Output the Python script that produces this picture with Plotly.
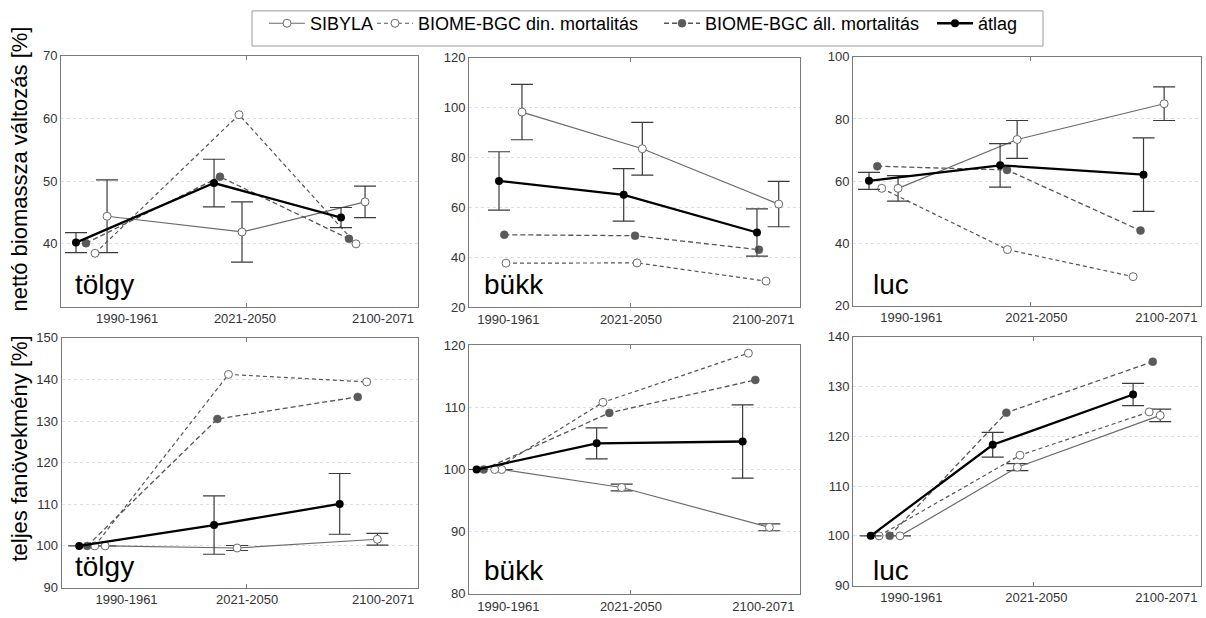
import plotly.graph_objects as go

FONT = "Liberation Sans, Arial, sans-serif"

periods = ["1990-1961", "2021-2050", "2100-2071"]

# ---------- nettó biomassza változás [%] ----------
# tölgy
tolgy_bio_sibyla = [44.4, 41.9, 46.7]
tolgy_bio_sibyla_err = [5.8, 4.8, 2.5]
tolgy_bio_din = [38.5, 60.6, 40.0]
tolgy_bio_all = [40.1, 50.7, 40.8]
tolgy_bio_atlag = [40.2, 49.7, 44.2]
tolgy_bio_atlag_err = [1.6, 3.8, 1.6]
tolgy_bio_x_sibyla = [0.387, 1.521, 2.555]
tolgy_bio_x_din = [0.286, 1.496, 2.479]
tolgy_bio_x_all = [0.210, 1.336, 2.420]
tolgy_bio_x_atlag = [0.126, 1.286, 2.353]
tolgy_bio_ticks = [0.555, 1.546, 2.706]

# bükk
bukk_bio_sibyla = [98.2, 83.5, 61.3]
bukk_bio_sibyla_err = [11.1, 10.6, 9.1]
bukk_bio_din = [37.6, 37.7, 30.4]
bukk_bio_all = [49.0, 48.6, 43.0]
bukk_bio_atlag = [70.6, 65.0, 49.9]
bukk_bio_atlag_err = [11.7, 10.5, 9.5]
bukk_bio_x_sibyla = [0.480, 1.571, 2.807]
bukk_bio_x_din = [0.335, 1.523, 2.692]
bukk_bio_x_all = [0.320, 1.505, 2.628]
bukk_bio_x_atlag = [0.272, 1.402, 2.610]
bukk_bio_ticks = [0.356, 1.468, 2.668]

# luc
luc_bio_sibyla = [57.7, 73.4, 84.9]
luc_bio_sibyla_err = [4.1, 6.1, 5.4]
luc_bio_din = [57.7, 38.0, 29.3]
luc_bio_all = [64.8, 63.6, 44.1]
luc_bio_atlag = [60.1, 65.1, 62.1]
luc_bio_atlag_err = [2.75, 7.0, 11.8]
luc_bio_x_sibyla = [0.389, 1.417, 2.686]
luc_bio_x_din = [0.248, 1.333, 2.418]
luc_bio_x_all = [0.210, 1.330, 2.482]
luc_bio_x_atlag = [0.138, 1.270, 2.508]
luc_bio_ticks = [0.504, 1.583, 2.706]

# ---------- teljes fanövekmény [%] ----------
# tölgy
tolgy_inc_sibyla = [100.0, 99.5, 101.6]
tolgy_inc_sibyla_err = [None, 0.6, 1.4]
tolgy_inc_din = [100.0, 141.2, 139.4]
tolgy_inc_all = [100.0, 130.5, 135.8]
tolgy_inc_atlag = [100.0, 105.0, 110.1]
tolgy_inc_atlag_err = [None, 7.0, 7.3]
tolgy_inc_x_sibyla = [0.367, 1.478, 2.658]
tolgy_inc_x_din = [0.280, 1.405, 2.568]
tolgy_inc_x_all = [0.216, 1.312, 2.493]
tolgy_inc_x_atlag = [0.149, 1.284, 2.341]
tolgy_inc_ticks = [0.547, 1.562, 2.706]

# bükk
bukk_inc_sibyla = [100.0, 97.1, 90.7]
bukk_inc_sibyla_err = [None, 0.55, 0.55]
bukk_inc_din = [100.0, 110.8, 118.7]
bukk_inc_all = [100.0, 109.1, 114.4]
bukk_inc_atlag = [100.0, 104.2, 104.5]
bukk_inc_atlag_err = [None, 2.5, 5.9]
bukk_inc_x_sibyla = [0.296, 1.384, 2.722]
bukk_inc_x_din = [0.233, 1.214, 2.532]
bukk_inc_x_all = [0.133, 1.272, 2.595]
bukk_inc_x_atlag = [0.069, 1.157, 2.480]
bukk_inc_ticks = [0.356, 1.468, 2.668]

# luc
luc_inc_sibyla = [100.0, 113.8, 124.2]
luc_inc_sibyla_err = [None, 0.7, 1.25]
luc_inc_din = [100.0, 116.2, 124.9]
luc_inc_all = [100.0, 124.75, 135.0]
luc_inc_atlag = [100.0, 118.3, 128.4]
luc_inc_atlag_err = [None, 2.5, 2.25]
luc_inc_x_sibyla = [0.406, 1.419, 2.652]
luc_inc_x_din = [0.225, 1.442, 2.557]
luc_inc_x_all = [0.317, 1.324, 2.588]
luc_inc_x_atlag = [0.153, 1.206, 2.418]
luc_inc_ticks = [0.504, 1.583, 2.706]

# single tick mark on the period axis of each panel
mid_ticks = [1.555, 1.468, 1.534, 1.556, 1.468, 1.555]

species_labels = ["tölgy", "bükk", "luc", "tölgy", "bükk", "luc"]
series_names = ["SIBYLA", "BIOME-BGC din. mortalitás",
                "BIOME-BGC áll. mortalitás", "átlag"]
# legend slot widths (px) for each series entry
legend_slots = [57, 236, 222, 40]

panels = [
    dict(sib=tolgy_bio_sibyla, sib_err=tolgy_bio_sibyla_err, din=tolgy_bio_din,
         all=tolgy_bio_all, avg=tolgy_bio_atlag, avg_err=tolgy_bio_atlag_err,
         xs=tolgy_bio_x_sibyla, xd=tolgy_bio_x_din, xa=tolgy_bio_x_all,
         xm=tolgy_bio_x_atlag, ticks=tolgy_bio_ticks,
         yr=[30, 70], yt=[40, 50, 60, 70],
         dx=[61, 418], dy=[50, 307], lab=(73, 284)),
    dict(sib=bukk_bio_sibyla, sib_err=bukk_bio_sibyla_err, din=bukk_bio_din,
         all=bukk_bio_all, avg=bukk_bio_atlag, avg_err=bukk_bio_atlag_err,
         xs=bukk_bio_x_sibyla, xd=bukk_bio_x_din, xa=bukk_bio_x_all,
         xm=bukk_bio_x_atlag, ticks=bukk_bio_ticks,
         yr=[20, 120], yt=[20, 40, 60, 80, 100, 120],
         dx=[469, 800], dy=[52, 307.5], lab=(482, 284)),
    dict(sib=luc_bio_sibyla, sib_err=luc_bio_sibyla_err, din=luc_bio_din,
         all=luc_bio_all, avg=luc_bio_atlag, avg_err=luc_bio_atlag_err,
         xs=luc_bio_x_sibyla, xd=luc_bio_x_din, xa=luc_bio_x_all,
         xm=luc_bio_x_atlag, ticks=luc_bio_ticks,
         yr=[20, 100], yt=[20, 40, 60, 80, 100],
         dx=[853, 1200.5], dy=[51, 306], lab=(871, 284)),
    dict(sib=tolgy_inc_sibyla, sib_err=tolgy_inc_sibyla_err, din=tolgy_inc_din,
         all=tolgy_inc_all, avg=tolgy_inc_atlag, avg_err=tolgy_inc_atlag_err,
         xs=tolgy_inc_x_sibyla, xd=tolgy_inc_x_din, xa=tolgy_inc_x_all,
         xm=tolgy_inc_x_atlag, ticks=tolgy_inc_ticks,
         yr=[90, 150], yt=[90, 100, 110, 120, 130, 140, 150],
         dx=[61.5, 418], dy=[339, 595], lab=(73, 573)),
    dict(sib=bukk_inc_sibyla, sib_err=bukk_inc_sibyla_err, din=bukk_inc_din,
         all=bukk_inc_all, avg=bukk_inc_atlag, avg_err=bukk_inc_atlag_err,
         xs=bukk_inc_x_sibyla, xd=bukk_inc_x_din, xa=bukk_inc_x_all,
         xm=bukk_inc_x_atlag, ticks=bukk_inc_ticks,
         yr=[80, 120], yt=[80, 90, 100, 110, 120],
         dx=[469, 800], dy=[346.5, 601.5], lab=(482, 578)),
    dict(sib=luc_inc_sibyla, sib_err=luc_inc_sibyla_err, din=luc_inc_din,
         all=luc_inc_all, avg=luc_inc_atlag, avg_err=luc_inc_atlag_err,
         xs=luc_inc_x_sibyla, xd=luc_inc_x_din, xa=luc_inc_x_all,
         xm=luc_inc_x_atlag, ticks=luc_inc_ticks,
         yr=[90, 140], yt=[90, 100, 110, 120, 130, 140],
         dx=[853, 1200.5], dy=[338, 593], lab=(871, 578)),
]

W, H = 1206, 618
fig = go.Figure()

GREY_LINE = "#6a6a6a"
DASH_LINE = "#555555"
FRAME = "#7a7a7a"
ERR = dict(type="data", visible=True, color="#3a3a3a", thickness=1.2, width=11)

annotations = []
for i, p in enumerate(panels):
    n = i + 1
    xa = "x" if n == 1 else f"x{n}"
    ya = "y" if n == 1 else f"y{n}"
    show = n == 1

    fig.add_trace(go.Scatter(
        x=p["xs"], y=p["sib"], xaxis=xa, yaxis=ya, name=series_names[0],
        legendgroup="s", showlegend=show, legendwidth=legend_slots[0],
        mode="lines+markers",
        line=dict(color=GREY_LINE, width=1.2),
        marker=dict(symbol="circle", size=8, color="white",
                    line=dict(color=GREY_LINE, width=1)),
        error_y=dict(ERR, array=p["sib_err"])))
    fig.add_trace(go.Scatter(
        x=p["xd"], y=p["din"], xaxis=xa, yaxis=ya, name=series_names[1],
        legendgroup="d", showlegend=show, legendwidth=legend_slots[1],
        mode="lines+markers",
        line=dict(color=DASH_LINE, width=1.2, dash="4px,3px"),
        marker=dict(symbol="circle", size=8, color="white",
                    line=dict(color=GREY_LINE, width=1))))
    fig.add_trace(go.Scatter(
        x=p["xa"], y=p["all"], xaxis=xa, yaxis=ya, name=series_names[2],
        legendgroup="a", showlegend=show, legendwidth=legend_slots[2],
        mode="lines+markers",
        line=dict(color=DASH_LINE, width=1.3, dash="5px,3px"),
        marker=dict(symbol="circle", size=8, color="#5a5a5a",
                    line=dict(color="#5a5a5a", width=0.5))))
    fig.add_trace(go.Scatter(
        x=p["xm"], y=p["avg"], xaxis=xa, yaxis=ya, name=series_names[3],
        legendgroup="m", showlegend=show, legendwidth=legend_slots[3],
        mode="lines+markers",
        line=dict(color="black", width=2.3),
        marker=dict(symbol="circle", size=8, color="black"),
        error_y=dict(ERR, array=p["avg_err"])))

    x0, x1 = p["dx"]
    y0, y1 = p["dy"]
    axis_common = dict(showline=True, linecolor=FRAME,
                       linewidth=1, zeroline=False, ticks="",
                       tickfont=dict(family=FONT, size=13, color="#333333"))
    fig.layout[f"xaxis{'' if n == 1 else n}"] = dict(
        axis_common, mirror="ticks", domain=[x0 / W, x1 / W], range=[0, 3],
        tickvals=p["ticks"], ticktext=periods, showgrid=False,
        minor=dict(tickmode="array", tickvals=[mid_ticks[i]], ticks="inside",
                   ticklen=4, tickcolor=FRAME, showgrid=False),
        anchor=ya)
    fig.layout[f"yaxis{'' if n == 1 else n}"] = dict(
        axis_common, mirror=True, domain=[1 - y1 / H, 1 - y0 / H],
        range=p["yr"], tickvals=p["yt"], showgrid=True, gridcolor="#dedede",
        griddash="dot", gridwidth=1, anchor=xa)

    lx, ly = p["lab"]
    annotations.append(dict(
        text=species_labels[i], x=lx / W, y=1 - ly / H, xref="paper",
        yref="paper", xanchor="left", yanchor="middle", showarrow=False,
        font=dict(family=FONT, size=28, color="black")))

annotations.append(dict(
    text="nettó biomassza változás [%]", x=19.5 / W, y=1 - 166 / H,
    xref="paper", yref="paper", textangle=-90, showarrow=False,
    xanchor="center", yanchor="middle",
    font=dict(family=FONT, size=22, color="black")))
annotations.append(dict(
    text="teljes fanövekmény [%]", x=19.5 / W, y=1 - 453 / H,
    xref="paper", yref="paper", textangle=-90, showarrow=False,
    xanchor="center", yanchor="middle",
    font=dict(family=FONT, size=22, color="black")))

# frame around the legend entries
legend_frame = dict(type="rect", xref="paper", yref="paper",
                    x0=252 / W, x1=1043 / W, y0=1 - 40 / H, y1=1 - 4 / H,
                    line=dict(color="#9a9a9a", width=1), fillcolor="white",
                    layer="below")

fig.update_layout(
    width=W, height=H, margin=dict(l=0, r=0, t=0, b=0),
    paper_bgcolor="white", plot_bgcolor="white",
    annotations=annotations, shapes=[legend_frame],
    legend=dict(orientation="h", x=264 / W, y=1 + 2 / H, xanchor="left",
                yanchor="top", borderwidth=0, bgcolor="rgba(0,0,0,0)",
                font=dict(family=FONT, size=18, color="black"),
                itemwidth=36, tracegroupgap=0),
)

fig.write_html("out.html")
